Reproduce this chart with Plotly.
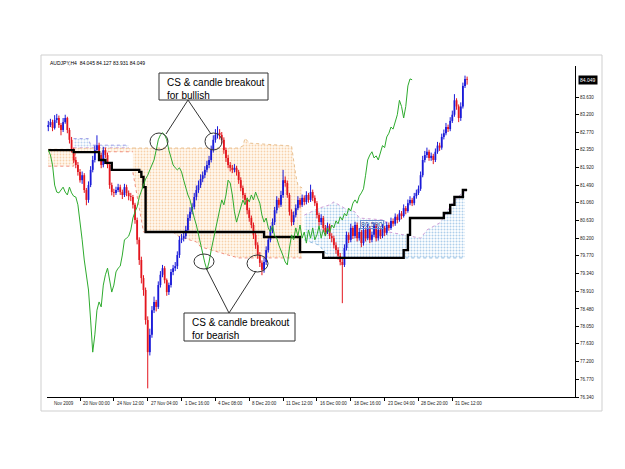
import plotly.graph_objects as go

# ---------------- data ----------------
closes = [
    82.95, 83.02, 82.88, 83.07, 83.12, 82.95, 82.83, 83.02, 83.12, 82.83,
    82.59, 82.34, 82.10, 81.98, 81.81, 81.61, 81.73, 81.37, 81.13, 81.49,
    81.86, 82.10, 82.34, 82.46, 82.22, 81.98, 82.34, 82.22, 81.98, 81.49,
    81.32, 81.30, 81.37, 81.44, 81.32, 81.25, 81.44, 81.30, 81.22, 81.20,
    81.01, 80.64, 80.16, 79.67, 79.23, 78.94, 78.21, 77.43, 77.85, 78.45,
    78.65, 78.53, 79.06, 79.31, 79.47, 79.18, 78.89, 79.06, 79.38, 79.47,
    79.52, 79.79, 80.16, 80.20, 80.25, 80.40, 80.69, 80.84, 80.96, 81.20,
    81.37, 81.49, 81.64, 81.73, 81.86, 81.98, 82.10, 82.34, 82.59, 82.71,
    82.76, 82.71, 82.59, 82.34, 82.15, 81.98, 81.91, 81.86, 81.91, 81.81,
    81.61, 81.42, 81.25, 81.13, 80.88, 80.69, 80.52, 80.28, 80.03, 79.79,
    79.60, 79.43, 79.62, 79.91, 80.16, 80.40, 80.59, 80.88, 81.13, 81.01,
    81.25, 81.61, 81.54, 81.25, 80.84, 80.59, 80.76, 80.93, 81.13, 81.01,
    81.18, 81.08, 81.25, 81.13, 81.32, 81.18, 81.05, 80.76, 80.59, 80.69,
    80.45, 80.35, 80.50, 80.25, 80.20, 80.03, 79.91, 79.77, 79.62, 79.55,
    79.96, 80.28, 80.16, 80.45, 80.25, 80.52, 80.20, 80.35, 80.08, 80.40,
    80.20, 80.45, 80.16, 80.28, 80.50, 80.20, 80.40, 80.25, 80.45, 80.33,
    80.52, 80.45, 80.62, 80.55, 80.72, 80.64, 80.80, 80.74, 80.93, 80.86,
    81.05, 81.13, 81.05, 81.22, 81.30, 81.40, 81.73, 82.10, 82.22, 82.30,
    82.15, 82.20, 82.10, 82.30, 82.45, 82.40, 82.66, 82.75, 82.90, 82.85,
    83.05, 83.20, 83.55, 83.40, 83.12, 83.40, 83.90, 84.07, 84.049,
]
first_open = 82.90
opens = [first_open] + closes[:-1]
highs = [
    83.05, 83.10, 83.08, 83.19, 83.22, 83.18, 83.00, 83.12, 83.20, 83.15,
    82.88, 82.66, 82.40, 82.18, 82.05, 81.88, 81.82, 81.78, 81.42, 81.58,
    81.95, 82.20, 82.45, 82.70, 82.52, 82.28, 82.42, 82.40, 82.28, 82.02,
    81.55, 81.40, 81.45, 81.52, 81.50, 81.38, 81.52, 81.50, 81.36, 81.30,
    81.25, 81.06, 80.70, 80.22, 79.75, 79.30, 79.00, 78.30, 78.00, 78.55,
    78.78, 78.70, 79.15, 79.40, 79.55, 79.52, 79.22, 79.12, 79.45, 79.55,
    79.62, 79.88, 80.25, 80.30, 80.35, 80.50, 80.78, 80.95, 81.05, 81.30,
    81.48, 81.60, 81.75, 81.82, 81.95, 82.08, 82.20, 82.45, 82.70, 82.85,
    82.92, 82.85, 82.78, 82.65, 82.40, 82.22, 82.05, 81.98, 82.00, 81.96,
    81.86, 81.68, 81.48, 81.30, 81.18, 80.94, 80.75, 80.58, 80.34, 80.10,
    79.86, 79.66, 79.72, 80.00, 80.25, 80.50, 80.68, 80.96, 81.22, 81.18,
    81.35, 81.86, 81.70, 81.60, 81.30, 80.90, 80.85, 81.02, 81.22, 81.18,
    81.26, 81.24, 81.34, 81.30, 81.50, 81.38, 81.24, 81.10, 80.82, 80.78,
    80.74, 80.52, 80.58, 80.55, 80.32, 80.26, 80.10, 79.98, 79.84, 79.70,
    80.05, 80.36, 80.34, 80.55, 80.50, 80.60, 80.58, 80.45, 80.40, 80.50,
    80.46, 80.55, 80.50, 80.36, 80.58, 80.55, 80.48, 80.46, 80.54, 80.50,
    80.60, 80.58, 80.70, 80.68, 80.80, 80.78, 80.88, 80.86, 81.02, 80.98,
    81.14, 81.22, 81.18, 81.30, 81.38, 81.48, 81.82, 82.20, 82.32, 82.40,
    82.35, 82.28, 82.25, 82.38, 82.54, 82.52, 82.74, 82.84, 83.00, 82.96,
    83.14, 83.30, 83.70, 83.60, 83.45, 83.50, 83.98, 84.15, 84.127,
]
lows = [
    82.80, 82.90, 82.80, 82.84, 83.00, 82.88, 82.70, 82.78, 82.98, 82.75,
    82.50, 82.28, 82.02, 81.90, 81.72, 81.55, 81.52, 81.30, 81.00, 81.06,
    81.44, 81.80, 82.04, 82.28, 82.14, 81.90, 81.92, 82.15, 81.90, 81.40,
    81.24, 81.20, 81.25, 81.32, 81.25, 81.15, 81.20, 81.22, 81.12, 81.10,
    80.92, 80.55, 80.05, 79.55, 79.10, 78.80, 78.10, 76.55, 77.35, 77.78,
    78.38, 78.42, 78.48, 79.00, 79.25, 79.10, 78.80, 78.82, 79.00, 79.30,
    79.40, 79.45, 79.72, 80.08, 80.12, 80.18, 80.35, 80.62, 80.78, 80.90,
    81.12, 81.30, 81.42, 81.56, 81.66, 81.80, 81.90, 82.04, 82.28, 82.52,
    82.62, 82.60, 82.50, 82.25, 82.05, 81.90, 81.82, 81.78, 81.80, 81.72,
    81.52, 81.34, 81.16, 81.04, 80.78, 80.60, 80.44, 80.18, 79.94, 79.70,
    79.50, 79.30, 79.36, 79.55, 79.85, 80.10, 80.32, 80.52, 80.80, 80.94,
    80.96, 81.18, 81.45, 81.18, 80.75, 80.50, 80.52, 80.70, 80.88, 80.94,
    80.96, 81.00, 81.02, 81.06, 81.08, 81.10, 80.98, 80.68, 80.50, 80.52,
    80.36, 80.26, 80.30, 80.18, 80.10, 79.95, 79.82, 79.68, 79.54, 78.62,
    79.50, 79.90, 80.08, 80.10, 80.18, 80.20, 80.12, 80.14, 79.98, 80.02,
    80.12, 80.15, 80.08, 80.10, 80.22, 80.12, 80.14, 80.18, 80.20, 80.25,
    80.28, 80.38, 80.40, 80.48, 80.50, 80.56, 80.60, 80.66, 80.70, 80.78,
    80.82, 81.00, 80.98, 81.00, 81.16, 81.25, 81.35, 81.68, 82.04, 82.15,
    82.08, 82.08, 82.00, 82.05, 82.25, 82.32, 82.35, 82.60, 82.70, 82.78,
    82.80, 83.00, 83.15, 83.32, 83.02, 83.05, 83.35, 83.85, 83.931,
]
bars = list(range(len(closes)))

chikou_shift = 26  # Chikou span: close plotted 26 bars back

# Kijun-sen (black step line): bar index -> value
kijun_bar = [0, 12, 24, 27, 30, 43, 44, 45, 46, 102, 119, 130, 168, 170, 171, 187, 190, 192, 196, 198]
kijun_val = [82.34, 82.29, 82.10, 82.03, 81.86, 81.81, 81.69, 81.44, 80.35, 80.23,
             79.86, 79.72, 79.91, 80.28, 80.69, 80.81, 81.01, 81.20, 81.37, 81.37]

# Kumo (cloud) - thin orange part at the left
left_bar = [0, 12, 13, 40]
left_top = [82.36, 82.36, 82.39, 82.39]
left_bot = [81.95, 81.95, 82.30, 82.30]
# Kumo - small bullish bumps at the left
bump_bar = [12, 15, 19, 20, 38]
bump_top = [82.62, 82.62, 82.62, 82.46, 82.46]
bump_bot = [82.40, 82.40, 82.40, 82.40, 82.40]
# Kumo - main orange (bearish) part
orange_bar = [40, 45, 59, 62, 70, 72, 85, 90, 92, 93, 95, 115, 117, 118, 120]
orange_top = [82.39, 82.39, 82.39, 82.39, 82.39, 82.39, 82.39, 82.39, 82.44, 82.63, 82.51, 82.44, 81.73, 81.49, 81.42]
orange_bot = [81.80, 80.35, 80.35, 80.23, 80.11, 79.99, 79.79, 79.72, 79.72, 79.72, 79.72, 79.72, 79.72, 79.72, 79.72]
# Kumo - blue (bullish) part
blue_bar = [121, 124, 128, 133, 135, 140, 145, 147, 159, 161, 176, 179, 185, 187, 191, 196, 197]
blue_top = [80.76, 80.84, 80.93, 81.01, 81.08, 80.93, 80.84, 80.69, 80.64, 80.35, 80.20, 80.40, 80.57, 80.71, 81.05, 81.32, 81.32]
blue_bot = [80.16, 80.11, 80.03, 79.72, 79.72, 79.72, 79.72, 79.72, 79.72, 79.72, 79.72, 79.72, 79.72, 79.72, 79.72, 79.72, 79.72]

y_tick_vals = [76.34, 76.77, 77.20, 77.63, 78.05, 78.48, 78.91, 79.34, 79.77, 80.20,
               80.63, 81.06, 81.49, 81.92, 82.35, 82.77, 83.20, 83.63]
x_tick_bars = [15, 31, 47, 63, 79, 95, 111, 127, 143, 159, 175, 191]
x_tick_labels = ["20 Nov 00:00", "24 Nov 12:00", "27 Nov 04:00", "1 Dec 16:00", "4 Dec 08:00",
                 "8 Dec 20:00", "11 Dec 12:00", "16 Dec 00:00", "18 Dec 16:00", "23 Dec 04:00",
                 "28 Dec 20:00", "31 Dec 12:00"]
title_text = "AUDJPY,H4  84.045 84.127 83.931 84.049"
last_price = 84.049
level_label = 80.590

# ---------------- layout geometry ----------------
W, H = 625, 469
L, R, T, B = 47, 50, 66, 72
PW, PH = W - L - R, H - T - B
SMALL = "Liberation Sans, Arial, sans-serif"


def px(x):
    return (x - L) / PW


def py(y):
    return (H - B - y) / PH


fig = go.Figure()


def cloud(xs, top, bot, fg, bg, edge_top, edge_bot, solidity):
    fig.add_trace(go.Scatter(
        x=xs + xs[::-1], y=top + bot[::-1], mode="lines", line=dict(width=0),
        fill="toself", fillcolor=bg,
        fillpattern=dict(shape=".", fgcolor=fg, bgcolor=bg, size=3, solidity=solidity),
        hoverinfo="skip", showlegend=False))
    fig.add_trace(go.Scatter(x=xs, y=top, mode="lines", line=dict(color=edge_top, width=1, dash="dot"),
                             hoverinfo="skip", showlegend=False))
    fig.add_trace(go.Scatter(x=xs, y=bot, mode="lines", line=dict(color=edge_bot, width=1, dash="dot"),
                             hoverinfo="skip", showlegend=False))


ORANGE_BG = "rgba(255,249,240,1)"
cloud(left_bar, left_top, left_bot, "#f0aa66", ORANGE_BG, "#e8c090", "#f09080", 0.3)
cloud(bump_bar, bump_top, bump_bot, "#7aa8e0", "rgba(255,255,255,1)", "#a0a0e8", "#d8b0d8", 0.35)
cloud(orange_bar, orange_top, orange_bot, "#f0aa66", ORANGE_BG, "#e8c090", "#f09080", 0.3)
cloud(blue_bar, blue_top, blue_bot, "#5f9fd8", "rgba(255,255,255,1)", "#d0a0d8", "#8fbbe0", 0.35)

# candles drawn as wick + body segments so that they sit above the cloud
UP, DOWN = "#1a1ad8", "#e3161e"
for color, is_up in ((UP, True), (DOWN, False)):
    wx, wy, bx, by = [], [], [], []
    for i in bars:
        up = closes[i] >= opens[i]
        if up != is_up:
            continue
        wx += [i, i, None]
        wy += [lows[i], highs[i], None]
        bx += [i, i, None]
        by += [opens[i], closes[i], None]
    fig.add_trace(go.Scatter(x=wx, y=wy, mode="lines", line=dict(color=color, width=1),
                             hoverinfo="skip", showlegend=False, connectgaps=False))
    fig.add_trace(go.Scatter(x=bx, y=by, mode="lines", line=dict(color=color, width=1.8),
                             hoverinfo="skip", showlegend=False, connectgaps=False))

fig.add_trace(go.Scatter(x=kijun_bar, y=kijun_val, mode="lines",
                         line=dict(color="black", width=2.4, shape="hv"),
                         hoverinfo="skip", showlegend=False))

fig.add_trace(go.Scatter(x=[b - chikou_shift for b in bars[chikou_shift:]], y=closes[chikou_shift:],
                         mode="lines", line=dict(color="#2eab2e", width=1),
                         hoverinfo="skip", showlegend=False))

shapes = []
# outer frame
shapes.append(dict(type="rect", xref="paper", yref="paper", x0=px(41), x1=px(602), y0=py(411), y1=py(55),
                   line=dict(color="#cfcfcf", width=1), layer="below"))
# annotation boxes
box_line = dict(color="#333333", width=1)
shapes.append(dict(type="rect", xref="paper", yref="paper", x0=px(159), x1=px(268), y0=py(100), y1=py(73),
                   line=box_line, fillcolor="white"))
shapes.append(dict(type="rect", xref="paper", yref="paper", x0=px(184), x1=px(295), y0=py(341), y1=py(313),
                   line=box_line, fillcolor="white"))
# pointer lines
for (x0, y0, x1, y1) in [(188, 100, 166, 134), (188, 100, 211, 134), (229, 313, 206, 268), (229, 313, 256, 271)]:
    shapes.append(dict(type="line", xref="paper", yref="paper", x0=px(x0), y0=py(y0), x1=px(x1), y1=py(y1),
                       line=box_line))
# ellipses
for (x0, y0, x1, y1) in [(150, 133, 168, 150), (205, 133, 222, 150), (194, 254, 214, 269), (247, 255, 268, 272)]:
    shapes.append(dict(type="circle", xref="paper", yref="paper", x0=px(x0), x1=px(x1), y0=py(y1), y1=py(y0),
                       line=box_line))

annotations = []
annotations.append(dict(text="CS & candle breakout<br>for bullish", xref="paper", yref="paper",
                        x=px(165), y=py(75), xanchor="left", yanchor="top", align="left", showarrow=False,
                        font=dict(family=SMALL, size=10, color="black")))
annotations.append(dict(text="CS & candle breakout<br>for bearish", xref="paper", yref="paper",
                        x=px(190), y=py(315), xanchor="left", yanchor="top", align="left", showarrow=False,
                        font=dict(family=SMALL, size=10, color="black")))
annotations.append(dict(text=title_text, xref="paper", yref="paper", x=px(48), y=py(63), xanchor="left",
                        yanchor="middle", showarrow=False,
                        font=dict(family=SMALL, size=5, color="black")))
for b, t in zip(x_tick_bars, x_tick_labels):
    annotations.append(dict(text=t, xref="x", yref="paper", x=b, y=py(403), xanchor="left", yanchor="middle",
                            xshift=1, showarrow=False,
                            font=dict(family=SMALL, size=4.5, color="#222222")))
annotations.append(dict(text="Nov 2009", xref="paper", yref="paper", x=px(52), y=py(403), xanchor="left",
                        yanchor="middle", showarrow=False,
                        font=dict(family=SMALL, size=4.5, color="#222222")))
annotations.append(dict(text=f"{last_price:.3f}", xref="paper", yref="y", x=1, y=last_price, xanchor="left",
                        yanchor="middle", xshift=3, showarrow=False, bgcolor="black", borderpad=1,
                        font=dict(family=SMALL, size=5, color="white")))
annotations.append(dict(text=f"{level_label:.3f}", xref="x", yref="y", x=153, y=80.54, xanchor="center",
                        yanchor="middle", showarrow=False, bordercolor="#6c8fd0", borderwidth=1, borderpad=0,
                        font=dict(family=SMALL, size=7, color="#2c4a9c")))

fig.update_layout(
    width=W, height=H, margin=dict(l=L, r=R, t=T, b=B, pad=0),
    paper_bgcolor="white", plot_bgcolor="white",
    shapes=shapes, annotations=annotations, showlegend=False,
    xaxis=dict(range=[-0.615, 249.0], showgrid=False, zeroline=False, showline=True, linecolor="black",
               linewidth=1, ticks="outside", ticklen=3, tickcolor="black", tickvals=x_tick_bars,
               showticklabels=False, fixedrange=True),
    yaxis=dict(range=[76.34, 84.384], side="right", showgrid=False, zeroline=False, showline=True,
               linecolor="black", linewidth=1, ticks="outside", ticklen=3, tickcolor="black",
               tickvals=y_tick_vals, ticktext=[f"{v:.3f}" for v in y_tick_vals],
               tickfont=dict(family=SMALL, size=4.5, color="#222222"), fixedrange=True),
)

fig.write_html("out.html")
